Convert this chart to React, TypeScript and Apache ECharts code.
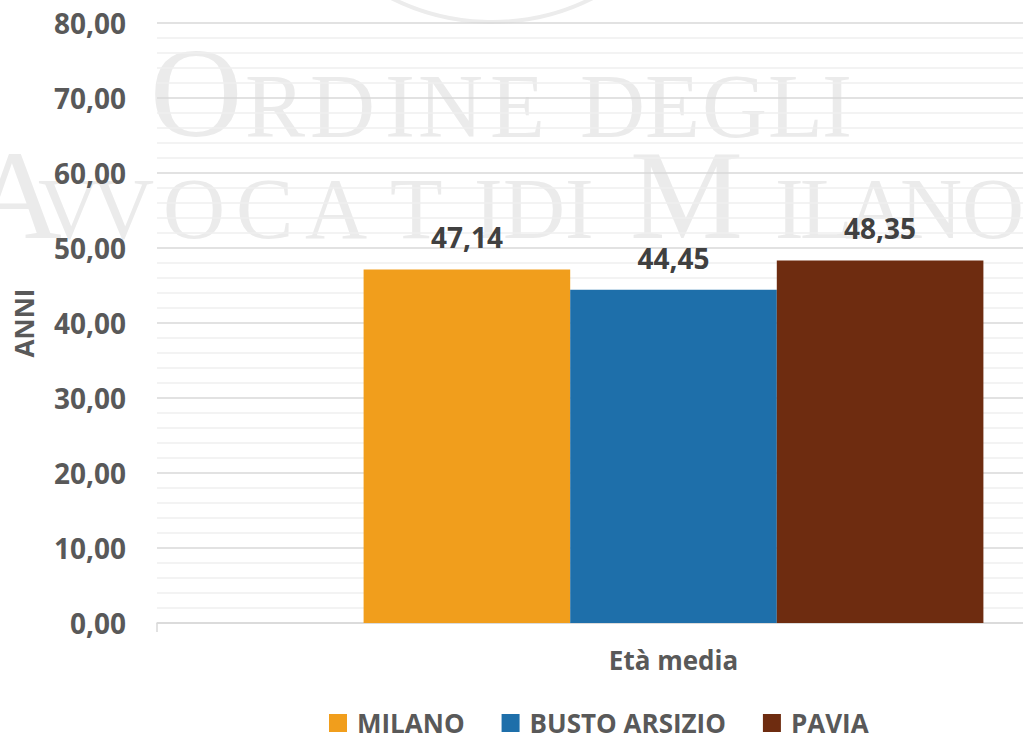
import React, { useEffect, useRef } from "react";
import * as echarts from "echarts";

const categories = ["Età media"];
const seriesNames = ["MILANO", "BUSTO ARSIZIO", "PAVIA"];
const milano = [47.14];
const bustoArsizio = [44.45];
const pavia = [48.35];
const colors = ["#F19E1C", "#1E6FAA", "#6E2C10"];
const yAxisName = "ANNI";

const fmt = (v: number) => v.toFixed(2).replace(".", ",");

// background watermark glyphs: [char, x, fontSize]
const wmLine1: [string, number, number][] = [
  ["O", 150, 128], ["R", 245, 90], ["D", 310, 90], ["I", 385, 90], ["N", 418, 90], ["E", 490, 90],
  ["D", 580, 90], ["E", 645, 90], ["G", 702, 90], ["L", 768, 90], ["I", 822, 90],
];
const wmLine2: [string, number, number][] = [
  ["A", -30, 127], ["V", 38, 86], ["V", 92, 86], ["O", 163, 86], ["C", 236, 86], ["A", 305, 86],
  ["T", 390, 86], ["I", 474, 86], ["D", 503, 86], ["I", 565, 86], ["M", 630, 127],
  ["I", 775, 86], ["L", 800, 86], ["A", 845, 86], ["N", 900, 86], ["O", 962, 86],
];

export default function App() {
  const ref = useRef<HTMLDivElement>(null);
  useEffect(() => {
    if (!ref.current) return;
    const chart = echarts.init(ref.current, null, { renderer: "svg" });
    const wmColor = "#ebebeb";
    const serif = "Liberation Serif";
    const wm = (text: string, x: number, baseline: number, size: number) => ({
      type: "text",
      x,
      y: baseline - 0.84 * size,
      z: -10,
      silent: true,
      style: {
        text,
        fill: wmColor,
        font: `${size}px "${serif}"`,
        textAlign: "left",
        textVerticalAlign: "top",
      },
    });
    const dataSets = [milano, bustoArsizio, pavia];
    chart.setOption({
      animation: false,
      backgroundColor: "#ffffff",
      textStyle: { fontFamily: "Open Sans" },
      graphic: {
        elements: [
          {
            type: "circle",
            z: -10,
            silent: true,
            shape: { cx: 492, cy: -202, r: 224 },
            style: { fill: "none", stroke: "#ececec", lineWidth: 4 },
          },
          ...wmLine1.map(([c, x, s]) => wm(c, x, 137, s)),
          ...wmLine2.map(([c, x, s]) => wm(c, x, 238, s)),
        ],
      },
      grid: { left: 157, top: 23, bottom: 115, right: 0, containLabel: false },
      legend: {
        data: seriesNames,
        left: 329,
        top: 710,
        padding: 0,
        itemWidth: 18,
        itemHeight: 18,
        itemGap: 37,
        icon: "rect",
        textStyle: {
          color: "#595959",
          fontSize: 26,
          fontWeight: "bold",
          fontFamily: "Open Sans",
          padding: [0, 0, 0, 5],
        },
      },
      xAxis: {
        type: "category",
        data: categories,
        axisLine: { show: true, lineStyle: { color: "#d9d9d9", width: 1.5 } },
        axisTick: { show: true, length: 9, lineStyle: { color: "#d9d9d9", width: 1.5 } },
        axisLabel: {
          color: "#595959",
          fontSize: 26,
          fontWeight: "bold",
          fontFamily: "Open Sans",
          margin: 24,
        },
        splitLine: { show: false },
      },
      yAxis: {
        type: "value",
        min: 0,
        max: 80,
        interval: 10,
        name: yAxisName,
        nameLocation: "middle",
        nameRotate: 90,
        nameGap: 120,
        nameTextStyle: {
          color: "#595959",
          fontSize: 26,
          fontWeight: "bold",
          fontFamily: "Open Sans",
        },
        axisLine: { show: false },
        axisTick: { show: false },
        axisLabel: {
          color: "#595959",
          fontSize: 28,
          fontWeight: "bold",
          fontFamily: "Open Sans",
          margin: 31,
          formatter: (v: number) => fmt(v),
        },
        splitLine: { show: true, lineStyle: { color: "#d9d9d9", width: 1.5 } },
        minorTick: { show: false, splitNumber: 5 },
        minorSplitLine: { show: true, lineStyle: { color: "#efefef", width: 1.5 } },
      },
      series: seriesNames.map((name, i) => ({
        name,
        type: "bar",
        data: dataSets[i],
        barGap: "0%",
        barCategoryGap: "40%",
        itemStyle: { color: colors[i] },
        label: {
          show: true,
          position: "top",
          distance: 18,
          color: "#404040",
          fontSize: 28,
          fontWeight: "bold",
          fontFamily: "Open Sans",
          formatter: (p: any) => fmt(p.value),
        },
      })),
    });
    return () => chart.dispose();
  }, []);
  return (
    <div
      style={{
        position: "fixed",
        left: 0,
        top: 0,
        width: 1023,
        height: 738,
        overflow: "hidden",
      }}
    >
      <div ref={ref} style={{ width: 1190, height: 738 }} />
    </div>
  );
}
